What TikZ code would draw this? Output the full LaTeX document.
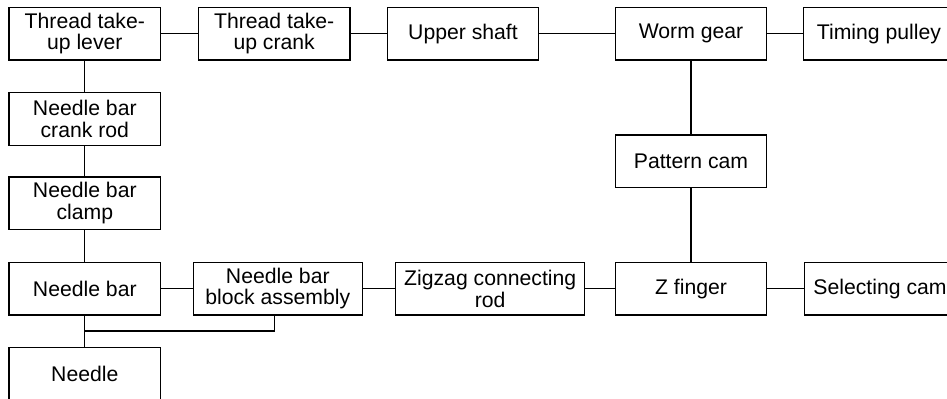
\documentclass[tikz,border=0pt]{standalone}
\usepackage{fontspec}
\setmainfont{Liberation Sans}
\tikzset{
  part/.style={draw, line width=0.6pt, inner sep=0pt, align=center,
    minimum width=75.75pt, minimum height=26.35pt,
    font=\fontsize{10.6pt}{10.8pt}\selectfont},
  link/.style={line width=0.6pt}
}
\begin{document}
\begin{tikzpicture}[x=0.5pt,y=-0.5pt]
    \clip (0,0) rectangle (947,399);
    
    \node[part] (L) at (84.8,33.7) {Thread take-\\up lever};
    \node[part] (C) at (274.2,33.7) {Thread take-\\up crank};
    \node[part] (U) at (463,33.7) {Upper shaft};
    \node[part] (W) at (691,33.7) {Worm gear};
    \node[part] (T) at (879,33.7) {Timing pulley};
    \node[part] (R) at (84.8,119) {Needle bar\\crank rod};
    \node[part] (CL) at (84.8,203.3) {Needle bar\\clamp};
    \node[part] (NB) at (84.8,288.7) {Needle bar};
    \node[part] (N) at (84.8,374) {Needle};
    \node[part,minimum width=84.5pt] (B) at (277.8,288.7) {Needle bar\\block assembly};
    \node[part,minimum width=94.5pt] (Z) at (490.2,288.7) {Zigzag connecting\\rod};
    \node[part] (ZF) at (691,288.7) {Z finger};
    \node[part] (S) at (880,288.7) {Selecting cam};
    \node[part] (P) at (691,161.3) {Pattern cam};
    \coordinate (J) at (84.8,331);
    \coordinate (K) at (274.3,331);
    
    \draw[link] (L) -- (C);
    \draw[link] (C) -- (U);
    \draw[link] (U) -- (W);
    \draw[link] (W) -- (T);
    \draw[link] (L) -- (R);
    \draw[link] (R) -- (CL);
    \draw[link] (CL) -- (NB);
    \draw[link] (W) -- (P);
    \draw[link] (P) -- (ZF);
    \draw[link] (NB) -- (B);
    \draw[link] (B) -- (Z);
    \draw[link] (Z) -- (ZF);
    \draw[link] (ZF) -- (S);
    \draw[link] (NB) -- (J) -- (N);
    \draw[link] (J) -- (K) -- (K |- B.south);
    
\end{tikzpicture}
\end{document}
